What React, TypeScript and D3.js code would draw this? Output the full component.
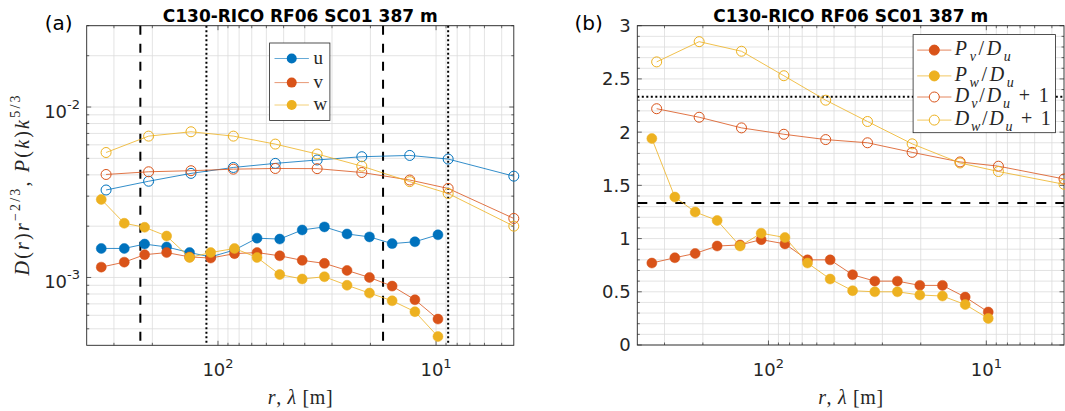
import React, { useEffect, useRef } from "react";
import * as d3 from "d3";

const WIDTH = 1065;
const HEIGHT = 411;
const TITLE = "C130-RICO RF06 SC01 387 m";

// wavelengths of the spectral points and separations of the structure function points [m]
const lambdaVals = [343, 269, 217, 172, 135, 108, 84, 66.2, 52.1, 41.1, 32.5, 25.6, 20.2, 15.9, 12.5, 9.8];
const rVals = [326, 208, 133, 85, 54.6, 35.1, 21.9, 13.2, 8.8, 4.4];

// panel (a): compensated spectra P(k)k^5/3 (filled)
const specU = [1.48e-3, 1.48e-3, 1.57e-3, 1.51e-3, 1.4e-3, 1.32e-3, 1.45e-3, 1.7e-3, 1.68e-3, 1.9e-3, 1.98e-3, 1.8e-3, 1.73e-3, 1.58e-3, 1.62e-3, 1.78e-3];
const specV = [1.15e-3, 1.23e-3, 1.36e-3, 1.4e-3, 1.32e-3, 1.3e-3, 1.38e-3, 1.4e-3, 1.34e-3, 1.26e-3, 1.21e-3, 1.1e-3, 1.0e-3, 0.89e-3, 0.74e-3, 0.57e-3];
const specW = [2.87e-3, 2.08e-3, 1.97e-3, 1.75e-3, 1.31e-3, 1.4e-3, 1.48e-3, 1.31e-3, 1.04e-3, 0.98e-3, 1.01e-3, 0.9e-3, 0.81e-3, 0.73e-3, 0.63e-3, 0.45e-3];
// panel (a): compensated structure functions D(r)r^-2/3 (open)
const sfU = [3.26e-3, 3.67e-3, 4.08e-3, 4.42e-3, 4.67e-3, 4.89e-3, 5.11e-3, 5.2e-3, 4.95e-3, 3.93e-3];
const sfV = [4.02e-3, 4.17e-3, 4.23e-3, 4.32e-3, 4.36e-3, 4.35e-3, 4.13e-3, 3.73e-3, 3.33e-3, 2.22e-3];
const sfW = [5.41e-3, 6.75e-3, 7.16e-3, 6.75e-3, 6.06e-3, 5.3e-3, 4.5e-3, 3.65e-3, 3.11e-3, 2.0e-3];

// panel (b): ratios
const ratioPv = [0.77, 0.82, 0.86, 0.93, 0.94, 0.99, 0.95, 0.8, 0.8, 0.66, 0.6, 0.6, 0.56, 0.56, 0.45, 0.31];
const ratioPw = [1.94, 1.39, 1.25, 1.17, 0.93, 1.05, 1.01, 0.77, 0.62, 0.51, 0.5, 0.5, 0.47, 0.46, 0.38, 0.25];
const ratioDv = [2.22, 2.14, 2.04, 1.98, 1.93, 1.9, 1.81, 1.72, 1.68, 1.56];
const ratioDw = [2.66, 2.85, 2.76, 2.53, 2.3, 2.1, 1.89, 1.71, 1.63, 1.51];

// reference lines
const dashedR = [227, 17.5];
const dottedR = [113, 8.8];
const isoDotted = 2.333;
const isoDashed = 1.333;

// ticks
const xMajor = [100, 10];
const xMinor = [300, 200, 90, 80, 70, 60, 50, 40, 30, 20, 9, 8, 7, 6, 5];
const yMajorA = [1e-2, 1e-3];
const yMinorA = [3e-2, 2e-2, 9e-3, 8e-3, 7e-3, 6e-3, 5e-3, 4e-3, 3e-3, 2e-3, 9e-4, 8e-4, 7e-4, 6e-4, 5e-4];
const yTicksB = [0, 0.5, 1, 1.5, 2, 2.5, 3];
const yLabelsB = ["0", "0.5", "1", "1.5", "2", "2.5", "3"];

const C_U = "#0072BD";
const C_V = "#D95319";
const C_W = "#EDB120";
const AX = "#262626";
const GRID = "#dcdcdc";
const SANS = "'DejaVu Sans', sans-serif";
const SERIF = "'Liberation Serif', 'Times New Roman', serif";

type Part = { t: string; i?: boolean; s?: "sub" | "sup" };

// appends tspans to a text element, handling italics and sub/superscripts
const richText = (sel: any, parts: Part[], size: number) => {
  let cur = 0;
  parts.forEach((p) => {
    const target = p.s === "sup" ? -0.42 * size : p.s === "sub" ? 0.28 * size : 0;
    const ts = sel.append("tspan").attr("dy", target - cur).text(p.t);
    cur = target;
    if (p.i) ts.attr("font-style", "italic");
    if (p.s) ts.attr("font-size", size * 0.7);
  });
};

export default function App() {
  const svgRef = useRef<SVGSVGElement>(null);

  useEffect(() => {
    const svg = d3.select(svgRef.current);
    svg.selectAll("*").remove();

    const boxA = { left: 86.7, right: 513.8, top: 25.7, bottom: 345.3 };
    const boxB = { left: 637.3, right: 1064, top: 25.7, bottom: 345 };

    const xA = d3.scaleLog().domain([400, 4.4]).range([boxA.left, boxA.right]);
    const yA = d3.scaleLog().domain([4e-4, 3e-2]).range([boxA.bottom, boxA.top]);
    const xB = d3.scaleLog().domain([400, 4.4]).range([boxB.left, boxB.right]);
    const yB = d3.scaleLinear().domain([0, 3]).range([boxB.bottom, boxB.top]);
    const yMinorB = d3.range(1, 30).filter((i) => i % 5 !== 0).map((i) => i / 10);

    // grid, and inward ticks on all four sides
    const drawFrame = (box: any, x: any, y: any, yMaj: number[], yMin: number[]) => {
      const g = svg.append("g");
      const vlines = [...xMajor, ...xMinor];
      const hlines = [...yMaj, ...yMin];
      vlines.forEach((v) => {
        g.append("line").attr("x1", x(v)).attr("x2", x(v)).attr("y1", box.top).attr("y2", box.bottom)
          .attr("stroke", GRID).attr("stroke-width", 0.8);
      });
      hlines.forEach((v) => {
        g.append("line").attr("x1", box.left).attr("x2", box.right).attr("y1", y(v)).attr("y2", y(v))
          .attr("stroke", GRID).attr("stroke-width", 0.8);
      });
      const tick = (x1: number, y1: number, x2: number, y2: number) =>
        g.append("line").attr("x1", x1).attr("y1", y1).attr("x2", x2).attr("y2", y2)
          .attr("stroke", AX).attr("stroke-width", 0.7);
      xMajor.forEach((v) => { tick(x(v), box.bottom, x(v), box.bottom - 4.5); tick(x(v), box.top, x(v), box.top + 4.5); });
      xMinor.forEach((v) => { tick(x(v), box.bottom, x(v), box.bottom - 2.5); tick(x(v), box.top, x(v), box.top + 2.5); });
      yMaj.forEach((v) => { tick(box.left, y(v), box.left + 4.5, y(v)); tick(box.right, y(v), box.right - 4.5, y(v)); });
      yMin.forEach((v) => { tick(box.left, y(v), box.left + 2.5, y(v)); tick(box.right, y(v), box.right - 2.5, y(v)); });
      return g;
    };

    const drawBox = (box: any) => {
      svg.append("rect").attr("x", box.left).attr("y", box.top)
        .attr("width", box.right - box.left).attr("height", box.bottom - box.top)
        .attr("fill", "none").attr("stroke", AX).attr("stroke-width", 0.9);
    };

    const drawSeries = (xs: number[], ys: number[], x: any, y: any, color: string, filled: boolean) => {
      const g = svg.append("g");
      const line = d3.line<number>().x((d, i) => x(xs[i])).y((d) => y(d));
      g.append("path").attr("d", line(ys)).attr("fill", "none")
        .attr("stroke", color).attr("stroke-width", 1).attr("stroke-opacity", 0.8);
      g.selectAll("circle").data(ys).enter().append("circle")
        .attr("cx", (d, i) => x(xs[i])).attr("cy", (d) => y(d)).attr("r", 5)
        .attr("fill", filled ? color : "none")
        .attr("stroke", color).attr("stroke-width", filled ? 0.5 : 1);
    };

    const xTickLabels = (box: any, x: any) => {
      xMajor.forEach((v) => {
        const t = svg.append("text").attr("x", x(v)).attr("y", box.bottom + 31)
          .attr("text-anchor", "middle").attr("font-family", SANS).attr("font-size", 18).attr("fill", AX);
        t.append("tspan").text("10");
        t.append("tspan").attr("dy", -8).attr("font-size", 13).text(String(Math.round(Math.log10(v))));
      });
    };

    const xLabel = (box: any) => {
      const t = svg.append("text").attr("x", (box.left + box.right) / 2).attr("y", 404)
        .attr("text-anchor", "middle").attr("font-family", SERIF).attr("font-size", 20).attr("fill", AX)
        .attr("textLength", 65).attr("lengthAdjust", "spacing");
      richText(t, [{ t: "r", i: true }, { t: ", " }, { t: "λ", i: true }, { t: " [m]" }], 20);
    };

    const title = (box: any, label: string, labelX: number) => {
      svg.append("text").attr("x", (box.left + box.right) / 2).attr("y", 21.5)
        .attr("text-anchor", "middle").attr("font-family", SANS).attr("font-weight", "bold")
        .attr("font-size", 17).attr("fill", "#000").text(TITLE);
      svg.append("text").attr("x", labelX).attr("y", 30)
        .attr("font-family", SANS).attr("font-size", 20).attr("fill", "#000").text(label);
    };

    // ---------------- panel (a) ----------------
    drawFrame(boxA, xA, yA, yMajorA, yMinorA);
    dashedR.forEach((v) => {
      svg.append("line").attr("x1", xA(v)).attr("x2", xA(v)).attr("y1", boxA.top).attr("y2", boxA.bottom)
        .attr("stroke", "#000").attr("stroke-width", 2).attr("stroke-dasharray", "9,9");
    });
    dottedR.forEach((v) => {
      svg.append("line").attr("x1", xA(v)).attr("x2", xA(v)).attr("y1", boxA.top).attr("y2", boxA.bottom)
        .attr("stroke", "#000").attr("stroke-width", 2).attr("stroke-dasharray", "2,2.5");
    });
    drawBox(boxA);

    drawSeries(lambdaVals, specU, xA, yA, C_U, true);
    drawSeries(lambdaVals, specV, xA, yA, C_V, true);
    drawSeries(lambdaVals, specW, xA, yA, C_W, true);
    drawSeries(rVals, sfU, xA, yA, C_U, false);
    drawSeries(rVals, sfV, xA, yA, C_V, false);
    drawSeries(rVals, sfW, xA, yA, C_W, false);

    yMajorA.forEach((v) => {
      const t = svg.append("text").attr("x", boxA.left - 6.7).attr("y", yA(v) + 10.5)
        .attr("text-anchor", "end").attr("font-family", SANS).attr("font-size", 18).attr("fill", AX);
      t.append("tspan").text("10");
      t.append("tspan").attr("dy", -9).attr("font-size", 13).text(String(Math.round(Math.log10(v))));
    });
    xTickLabels(boxA, xA);
    xLabel(boxA);
    title(boxA, "(a)", 44.8);

    const yl = svg.append("text").attr("transform", `translate(28.5, ${(boxA.top + boxA.bottom) / 2}) rotate(-90)`)
      .attr("text-anchor", "middle").attr("font-family", SERIF).attr("font-size", 20).attr("fill", AX)
      .attr("textLength", 180).attr("lengthAdjust", "spacing");
    richText(yl, [
      { t: "D", i: true }, { t: "(" }, { t: "r", i: true }, { t: ")" }, { t: "r", i: true },
      { t: "−2/3", s: "sup" }, { t: ", " }, { t: "P", i: true }, { t: "(" }, { t: "k", i: true },
      { t: ")" }, { t: "k", i: true }, { t: "5/3", s: "sup" },
    ], 20);

    // legend (a)
    const legA = svg.append("g");
    legA.append("rect").attr("x", 269.6).attr("y", 43).attr("width", 60.3).attr("height", 77.5)
      .attr("fill", "#fff").attr("stroke", AX).attr("stroke-width", 0.8);
    [["u", C_U, 58.5], ["v", C_V, 82.6], ["w", C_W, 105]].forEach(([name, color, yy]: any) => {
      legA.append("line").attr("x1", 274.5).attr("x2", 308.9).attr("y1", yy).attr("y2", yy)
        .attr("stroke", color).attr("stroke-width", 1).attr("stroke-opacity", 0.6);
      legA.append("circle").attr("cx", 291.7).attr("cy", yy).attr("r", 5).attr("fill", color);
      legA.append("text").attr("x", 313.5).attr("y", yy + 5).attr("font-family", SERIF)
        .attr("font-size", 19).attr("fill", AX).text(name);
    });

    // ---------------- panel (b) ----------------
    drawFrame(boxB, xB, yB, yTicksB, yMinorB);
    svg.append("line").attr("x1", boxB.left).attr("x2", boxB.right).attr("y1", yB(isoDotted)).attr("y2", yB(isoDotted))
      .attr("stroke", "#000").attr("stroke-width", 2).attr("stroke-dasharray", "2,2.5");
    svg.append("line").attr("x1", boxB.left).attr("x2", boxB.right).attr("y1", yB(isoDashed)).attr("y2", yB(isoDashed))
      .attr("stroke", "#000").attr("stroke-width", 2).attr("stroke-dasharray", "10,9");
    drawBox(boxB);

    drawSeries(lambdaVals, ratioPv, xB, yB, C_V, true);
    drawSeries(lambdaVals, ratioPw, xB, yB, C_W, true);
    drawSeries(rVals, ratioDv, xB, yB, C_V, false);
    drawSeries(rVals, ratioDw, xB, yB, C_W, false);

    yTicksB.forEach((v, i) => {
      svg.append("text").attr("x", boxB.left - 6.6).attr("y", yB(v)).attr("dy", "0.36em")
        .attr("text-anchor", "end").attr("font-family", SANS).attr("font-size", 18).attr("fill", AX)
        .text(yLabelsB[i]);
    });
    xTickLabels(boxB, xB);
    xLabel(boxB);
    title(boxB, "(b)", 574.4);

    // legend (b)
    const legB = svg.append("g");
    legB.append("rect").attr("x", 913.1).attr("y", 34.6).attr("width", 142.3).attr("height", 98.1)
      .attr("fill", "#fff").attr("stroke", AX).attr("stroke-width", 0.8);
    const legItems: any[] = [
      { color: C_V, filled: true, yy: 50.1, len: 56, parts: [{ t: "P", i: true }, { t: "v", i: true, s: "sub" }, { t: "/" }, { t: "D", i: true }, { t: "u", i: true, s: "sub" }] },
      { color: C_W, filled: true, yy: 75.9, len: 59, parts: [{ t: "P", i: true }, { t: "w", i: true, s: "sub" }, { t: "/" }, { t: "D", i: true }, { t: "u", i: true, s: "sub" }] },
      { color: C_V, filled: false, yy: 97, len: 94, parts: [{ t: "D", i: true }, { t: "v", i: true, s: "sub" }, { t: "/" }, { t: "D", i: true }, { t: "u", i: true, s: "sub" }, { t: " + 1" }] },
      { color: C_W, filled: false, yy: 120.1, len: 96, parts: [{ t: "D", i: true }, { t: "w", i: true, s: "sub" }, { t: "/" }, { t: "D", i: true }, { t: "u", i: true, s: "sub" }, { t: " + 1" }] },
    ];
    legItems.forEach((it) => {
      legB.append("line").attr("x1", 917.2).attr("x2", 951.4).attr("y1", it.yy).attr("y2", it.yy)
        .attr("stroke", it.color).attr("stroke-width", 1).attr("stroke-opacity", 0.7);
      legB.append("circle").attr("cx", 934.3).attr("cy", it.yy).attr("r", 5)
        .attr("fill", it.filled ? it.color : "#fff").attr("stroke", it.color).attr("stroke-width", 1);
      const t = legB.append("text").attr("x", 954.8).attr("y", it.yy + 5).attr("font-family", SERIF)
        .attr("font-size", 20).attr("fill", AX).attr("textLength", it.len).attr("lengthAdjust", "spacing");
      richText(t, it.parts, 20);
    });
  }, []);

  return (
    <svg
      ref={svgRef}
      width={WIDTH}
      height={HEIGHT}
      style={{ position: "absolute", left: 0, top: 0, background: "#fff" }}
    />
  );
}
